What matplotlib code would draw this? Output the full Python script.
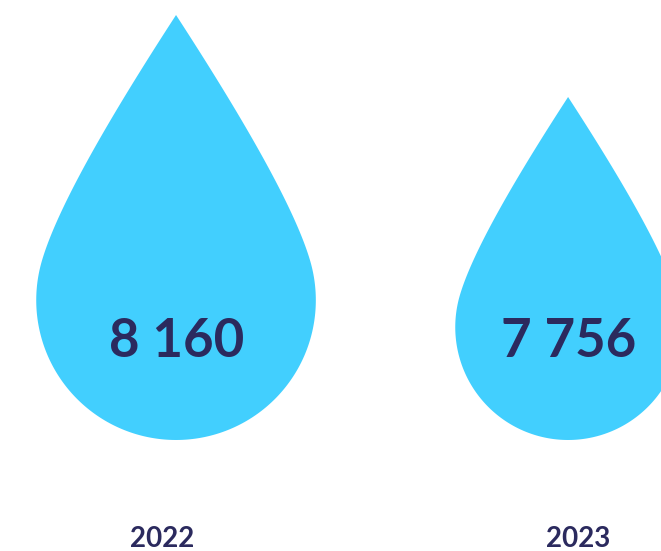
import numpy as np
import matplotlib
matplotlib.use("Agg")
import matplotlib.pyplot as plt
from matplotlib.patches import Polygon

# data
years = ['2022', '2023']
values = [8160, 7756]
value_labels = ['8 160', '7 756']

BASE = 6066          # value at which the drops sit (truncated scale)
drop_color = '#42cffe'
text_color = '#2b2a5e'

W, H = 661, 551
fig = plt.figure(figsize=(W / 100, H / 100), dpi=100)
ax = fig.add_axes([0, 0, 1, 1])
ax.set_xlim(-0.449, 1.237)
ax.set_ylim(5519, 8234)
ax.axis('off')

px_x = W / (1.237 + 0.449)
px_y = H / (8234 - 5519)


def drop_outline(tip_h=2.04, phi_deg=74, tip_half_angle=33, a=0.7, b=0.45, n=80):
    # unit drop: circle radius 1 at (0,0), tip at (0, tip_h)
    phi = np.radians(phi_deg)
    ta = np.radians(tip_half_angle)
    T = np.array([0.0, tip_h])
    P = np.array([np.sin(phi), np.cos(phi)])
    C1 = T + a * np.array([np.sin(ta), -np.cos(ta)])
    C2 = P + b * np.array([-np.cos(phi), np.sin(phi)])
    t = np.linspace(0, 1, n)[:, None]
    bez = (1 - t) ** 3 * T + 3 * (1 - t) ** 2 * t * C1 + 3 * (1 - t) * t ** 2 * C2 + t ** 3 * P
    ang = np.linspace(phi, 2 * np.pi - phi, 200)
    arc = np.column_stack([np.sin(ang), np.cos(ang)])
    left = bez[::-1] * np.array([-1, 1])
    return np.vstack([bez, arc, left]), tip_h


for i, (v, lab) in enumerate(zip(values, value_labels)):
    pts, tip_h = drop_outline()
    r_y = (v - BASE) / (1 + tip_h)
    xs = i + pts[:, 0] * r_y * px_y / px_x
    ys = BASE + r_y * (1 + pts[:, 1])
    ax.add_patch(Polygon(np.column_stack([xs, ys]), closed=True,
                         facecolor=drop_color, edgecolor='none'))
    ax.annotate(lab, (i, BASE), xytext=(1, 98), textcoords='offset pixels',
                ha='center', va='center', fontsize=38, fontweight='bold',
                family='Lato', color=text_color)

year_nudge = [-14, 10]
for i, yr in enumerate(years):
    ax.annotate(yr, (i, BASE), xytext=(year_nudge[i], -99), textcoords='offset pixels',
                ha='center', va='center', fontsize=20, fontweight='bold',
                family='Lato', color=text_color)

fig.savefig('out.png', dpi=100)
